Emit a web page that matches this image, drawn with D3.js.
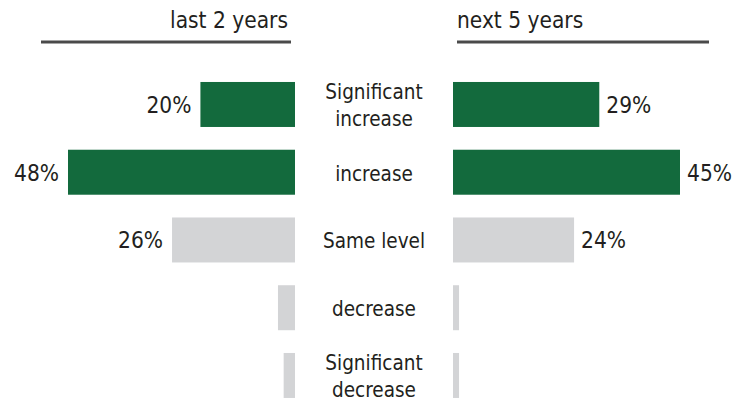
<!DOCTYPE html>
<html>
<head>
<meta charset="utf-8">
<script src="https://cdn.jsdelivr.net/npm/d3@7/dist/d3.min.js"></script>
<style>
  html, body { margin: 0; padding: 0; background: #ffffff; }
  svg { display: block; }
  text { font-family: "DejaVu Sans Condensed", "DejaVu Sans", sans-serif; fill: #231f20; }
</style>
</head>
<body>
<svg id="chart" width="736" height="400"></svg>
<script>
// Survey answers, one row per category
const categories = ["Significant increase", "increase", "Same level", "decrease", "Significant decrease"];
const categoryLines = [["Significant", "increase"], ["increase"], ["Same level"], ["decrease"], ["Significant", "decrease"]];
const lastTwoYears = [20, 48, 26, 3.6, 2.4];
const nextFiveYears = [29, 45, 24, 1.2, 1.2];
const valueLabelsLeft = ["20%", "48%", "26%", "", ""];
const valueLabelsRight = ["29%", "45%", "24%", "", ""];
const barColors = ["#136a3d", "#136a3d", "#d3d4d6", "#d3d4d6", "#d3d4d6"];
const panelTitles = ["last 2 years", "next 5 years"];

const svg = d3.select("#chart");

const y = d3.scaleBand()
  .domain(categories)
  .range([70.6, 409.35])
  .paddingInner(0.336)
  .paddingOuter(0.168);

const xLeft = d3.scaleLinear().domain([0, d3.max(lastTwoYears)]).range([295, 68]);
const xRight = d3.scaleLinear().domain([0, d3.max(nextFiveYears)]).range([453, 680]);

// Panel headers with underline rules
const headers = [
  { text: panelTitles[0], x: 288, anchor: "end", x1: 41, x2: 291 },
  { text: panelTitles[1], x: 457, anchor: "start", x1: 457, x2: 709 }
];
svg.selectAll("text.title").data(headers).join("text")
  .attr("class", "title")
  .attr("x", d => d.x)
  .attr("y", 28)
  .attr("text-anchor", d => d.anchor)
  .style("font-size", "22.5px")
  .text(d => d.text);
svg.selectAll("line.rule").data(headers).join("line")
  .attr("class", "rule")
  .attr("x1", d => d.x1).attr("x2", d => d.x2)
  .attr("y1", 42).attr("y2", 42)
  .attr("stroke", "#4a4a4a")
  .attr("stroke-width", 3);

// Left bars grow leftwards from the centre column
svg.selectAll("rect.left").data(categories).join("rect")
  .attr("class", "left")
  .attr("x", (c, i) => xLeft(lastTwoYears[i]))
  .attr("y", c => y(c))
  .attr("width", (c, i) => xLeft(0) - xLeft(lastTwoYears[i]))
  .attr("height", y.bandwidth())
  .attr("fill", (c, i) => barColors[i]);

// Right bars grow rightwards
svg.selectAll("rect.right").data(categories).join("rect")
  .attr("class", "right")
  .attr("x", xRight(0))
  .attr("y", c => y(c))
  .attr("width", (c, i) => xRight(nextFiveYears[i]) - xRight(0))
  .attr("height", y.bandwidth())
  .attr("fill", (c, i) => barColors[i]);

const cy = c => y(c) + y.bandwidth() / 2;

svg.selectAll("text.vleft").data(categories).join("text")
  .attr("class", "vleft")
  .attr("x", (c, i) => xLeft(lastTwoYears[i]) - 9)
  .attr("y", c => cy(c) + 8.5)
  .attr("text-anchor", "end")
  .style("font-size", "22.5px")
  .text((c, i) => valueLabelsLeft[i]);

svg.selectAll("text.vright").data(categories).join("text")
  .attr("class", "vright")
  .attr("x", (c, i) => xRight(nextFiveYears[i]) + 7)
  .attr("y", c => cy(c) + 8.5)
  .attr("text-anchor", "start")
  .style("font-size", "22.5px")
  .text((c, i) => valueLabelsRight[i]);

// Category names in the centre column
const lineGap = 27;
const cat = svg.selectAll("text.cat").data(categories).join("text")
  .attr("class", "cat")
  .attr("text-anchor", "middle")
  .style("font-size", "20.5px");
cat.each(function(c, i) {
  const lines = categoryLines[i];
  const first = cy(c) + 6.5 - (lines.length - 1) * lineGap / 2 + 2;
  d3.select(this).selectAll("tspan").data(lines).join("tspan")
    .attr("x", 374)
    .attr("y", (l, j) => first + j * lineGap)
    .text(l => l);
});
</script>
</body>
</html>
